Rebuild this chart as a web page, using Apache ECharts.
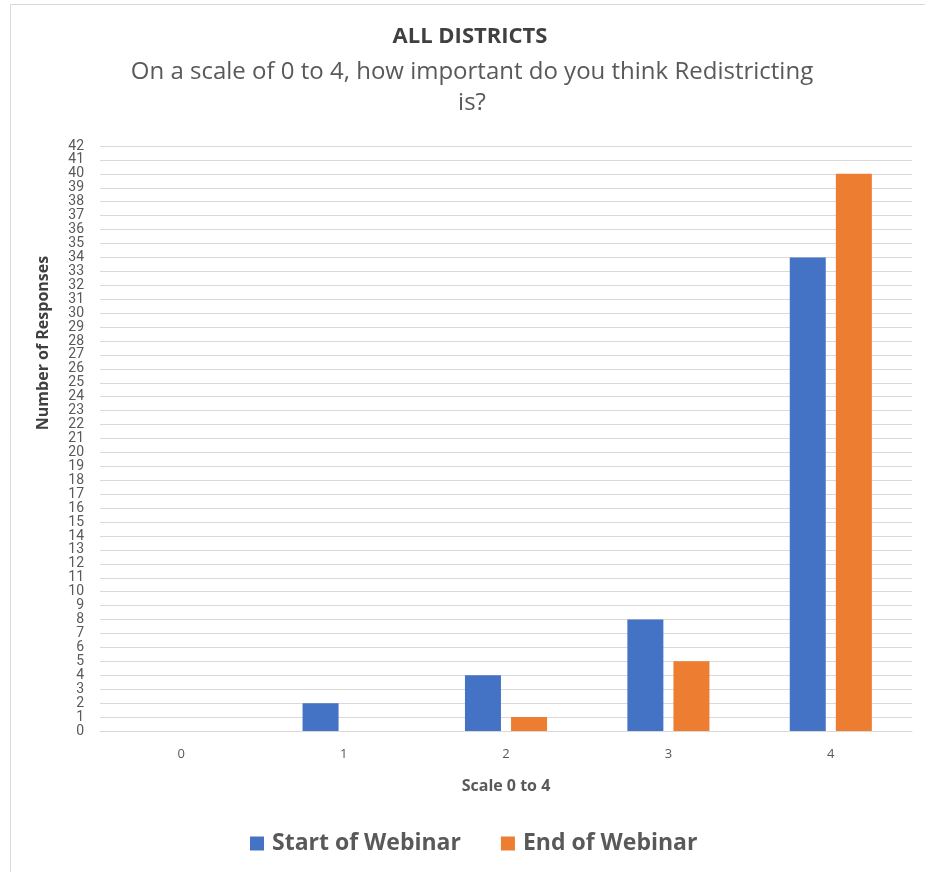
<!DOCTYPE html>
<html>
<head>
<meta charset="utf-8">
<script src="https://cdn.jsdelivr.net/npm/echarts@6/dist/echarts.min.js"></script>
<style>
html,body{margin:0;padding:0;background:#fff;}
#chart{width:925px;height:872px;}
</style>
</head>
<body>
<div id="chart"></div>
<script>
const categories = ['0', '1', '2', '3', '4'];
const startOfWebinar = [0, 2, 4, 8, 34];
const endOfWebinar = [0, 0, 1, 5, 40];
const yMin = 0, yMax = 42, yInterval = 1;

const chart = echarts.init(document.getElementById('chart'));
const font = '"Open Sans", "Noto Sans", sans-serif';
chart.setOption({
  animation: false,
  backgroundColor: '#fff',
  graphic: [
    { type: 'rect', shape: { x: 10.5, y: 4.5, width: 2000, height: 2000 }, style: { fill: 'none', stroke: '#d9d9d9', lineWidth: 1 } },
    { type: 'text', x: 470, y: 37, style: { text: 'ALL DISTRICTS', fill: '#404040', font: 'bold 22px ' + font, textAlign: 'center', textVerticalAlign: 'middle' } },
    { type: 'text', x: 472, y: 57, style: { text: 'On a scale of 0 to 4, how important do you think Redistricting\nis?', fill: '#595959', font: '24px ' + font, textAlign: 'center', lineHeight: 31 } },
    { type: 'text', x: 43, y: 343, rotation: Math.PI / 2, style: { text: 'Number of Responses', fill: '#404040', font: 'bold 16px ' + font, textAlign: 'center', textVerticalAlign: 'middle' } }
  ],
  legend: {
    left: 250, top: 832, padding: 0,
    itemWidth: 14, itemHeight: 14, itemGap: 40,
    icon: 'rect',
    textStyle: { fontFamily: font, fontWeight: 'bold', fontSize: 23, color: '#595959', padding: [0,0,0,3] },
    data: ['Start of Webinar', 'End of Webinar']
  },
  grid: { left: 100, right: 13, top: 146, bottom: 141, containLabel: false },
  xAxis: {
    type: 'category',
    data: categories,
    name: 'Scale 0 to 4',
    nameLocation: 'middle',
    nameGap: 47,
    nameTextStyle: { fontFamily: font, fontWeight: 'bold', fontSize: 16, color: '#595959' },
    axisLine: { show: true, lineStyle: { color: '#d9d9d9', width: 1 } },
    axisTick: { show: false },
    axisLabel: { fontFamily: font, fontSize: 13, color: '#595959', margin: 17 }
  },
  yAxis: {
    type: 'value',
    min: yMin, max: yMax, interval: yInterval,
    axisLine: { show: false },
    axisTick: { show: false },
    axisLabel: { fontFamily: '"Liberation Sans Narrow", "Roboto", sans-serif', fontSize: 14, color: '#595959', margin: 16 },
    splitLine: { lineStyle: { color: '#d9d9d9', width: 1 } }
  },
  series: [
    { name: 'Start of Webinar', type: 'bar', data: startOfWebinar, barWidth: 36, barGap: '28%', itemStyle: { color: '#4472C4' } },
    { name: 'End of Webinar', type: 'bar', data: endOfWebinar, barWidth: 36, barGap: '28%', itemStyle: { color: '#ED7D31' } }
  ]
});
</script>
</body>
</html>
